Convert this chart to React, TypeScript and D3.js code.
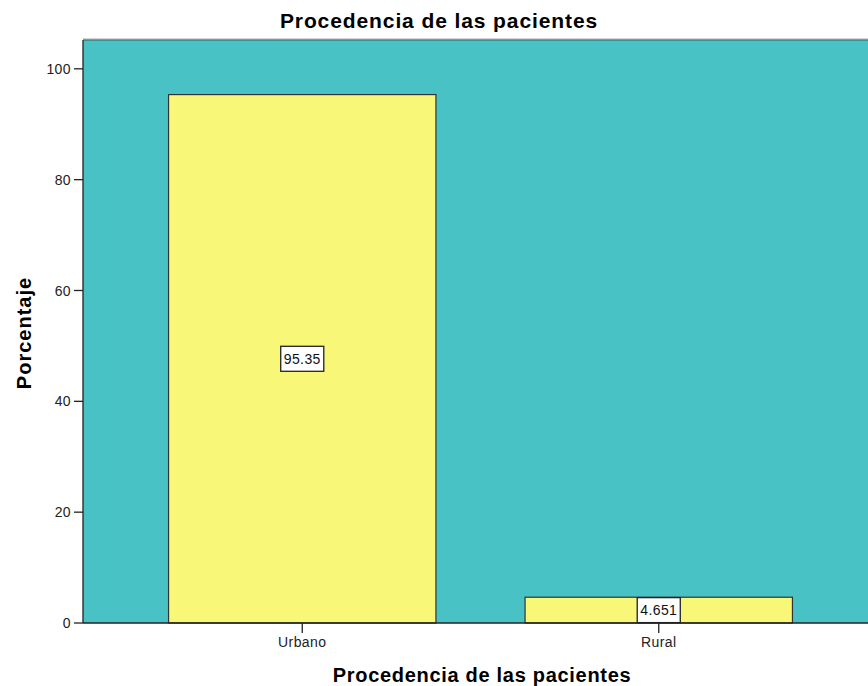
import React, { useEffect, useRef } from 'react';
import * as d3 from 'd3';

const categories = ['Urbano', 'Rural'];
const percentages = [95.35, 4.651];
const valueLabels = ['95.35', '4.651'];
const yTicks = [0, 20, 40, 60, 80, 100];

const App: React.FC = () => {
  const svgRef = useRef<SVGSVGElement>(null);

  const width = 868;
  const height = 686;
  const plot = { left: 83, top: 40, right: 878, bottom: 623 };

  useEffect(() => {
    if (!svgRef.current) return;
    const svg = d3.select(svgRef.current);
    svg.selectAll('*').remove();

    const font = '"Liberation Sans", Arial, sans-serif';

    const y = d3.scaleLinear().domain([0, 105.2]).range([plot.bottom, plot.top]);
    const x = d3.scaleBand<string>()
      .domain(categories)
      .range([plot.left, plot.right])
      .paddingInner(0.25)
      .paddingOuter(0.24);

    // plot background
    svg.append('rect')
      .attr('x', plot.left)
      .attr('y', plot.top)
      .attr('width', plot.right - plot.left)
      .attr('height', plot.bottom - plot.top)
      .style('fill', '#49c2c6');

    svg.append('line')
      .attr('x1', plot.left).attr('x2', width)
      .attr('y1', plot.top - 1).attr('y2', plot.top - 1)
      .style('stroke', '#aaa').style('stroke-width', 1);
    svg.append('line')
      .attr('x1', plot.left).attr('x2', width)
      .attr('y1', plot.top).attr('y2', plot.top)
      .style('stroke', '#2f5f61').style('stroke-width', 1.2);

    // bars
    svg.selectAll('.bar')
      .data(categories)
      .enter()
      .append('rect')
      .attr('class', 'bar')
      .attr('x', d => x(d)!)
      .attr('y', (d, i) => y(percentages[i]))
      .attr('width', x.bandwidth())
      .attr('height', (d, i) => y(0) - y(percentages[i]))
      .style('fill', '#f9f777')
      .style('stroke', '#333')
      .style('stroke-width', 1.2);

    // value labels
    categories.forEach((c, i) => {
      const cx = x(c)! + x.bandwidth() / 2;
      const cy = (y(0) + y(percentages[i])) / 2;
      const g = svg.append('g').attr('transform', `translate(${cx},${cy})`);
      const t = g.append('text')
        .attr('text-anchor', 'middle')
        .attr('dy', '0.36em')
        .style('font-family', font)
        .style('font-size', '14px')
        .style('letter-spacing', '0.4px')
        .style('fill', '#111')
        .text(valueLabels[i]);
      const bb = (t.node() as SVGTextElement).getBBox();
      g.insert('rect', 'text')
        .attr('x', bb.x - 3)
        .attr('y', -12.5)
        .attr('width', bb.width + 6)
        .attr('height', 25)
        .style('fill', '#fff')
        .style('stroke', '#222')
        .style('stroke-width', 1.3);
    });

    // y axis
    svg.append('line')
      .attr('x1', plot.left).attr('x2', plot.left)
      .attr('y1', plot.top).attr('y2', plot.bottom)
      .style('stroke', '#222').style('stroke-width', 1.3);
    yTicks.forEach(t => {
      svg.append('line')
        .attr('x1', plot.left - 9).attr('x2', plot.left)
        .attr('y1', y(t)).attr('y2', y(t))
        .style('stroke', '#222').style('stroke-width', 1.3);
      svg.append('text')
        .attr('x', plot.left - 12)
        .attr('y', y(t))
        .attr('dy', '0.36em')
        .attr('text-anchor', 'end')
        .style('font-family', font)
        .style('font-size', '14px')
        .style('letter-spacing', '0.4px')
        .style('fill', '#222')
        .text(t);
    });

    // x axis
    svg.append('line')
      .attr('x1', plot.left).attr('x2', width)
      .attr('y1', plot.bottom).attr('y2', plot.bottom)
      .style('stroke', '#222').style('stroke-width', 1.3);
    categories.forEach(c => {
      const cx = x(c)! + x.bandwidth() / 2;
      svg.append('line')
        .attr('x1', cx).attr('x2', cx)
        .attr('y1', plot.bottom).attr('y2', plot.bottom + 10)
        .style('stroke', '#222').style('stroke-width', 1.3);
      svg.append('text')
        .attr('x', cx)
        .attr('y', plot.bottom + 24)
        .attr('text-anchor', 'middle')
        .style('font-family', font)
        .style('font-size', '14px')
        .style('letter-spacing', '0.4px')
        .style('fill', '#222')
        .text(c);
    });

    // titles
    svg.append('text')
      .attr('x', 439).attr('y', 28)
      .attr('text-anchor', 'middle')
      .style('font-family', font)
      .style('font-size', '21px')
      .style('letter-spacing', '0.9px')
      .style('font-weight', 'bold')
      .text('Procedencia de las pacientes');

    svg.append('text')
      .attr('x', 482).attr('y', 682)
      .attr('text-anchor', 'middle')
      .style('font-family', font)
      .style('font-size', '20px')
      .style('letter-spacing', '0.7px')
      .style('font-weight', 'bold')
      .text('Procedencia de las pacientes');

    svg.append('text')
      .attr('transform', `translate(31, 333) rotate(-90)`)
      .attr('text-anchor', 'middle')
      .style('font-family', font)
      .style('font-size', '20px')
      .style('letter-spacing', '1px')
      .style('font-weight', 'bold')
      .text('Porcentaje');
  }, []);

  return (
    <svg
      ref={svgRef}
      width={width}
      height={height}
      style={{ position: 'absolute', left: 0, top: 0, background: '#fff' }}
    />
  );
};

export default App;
